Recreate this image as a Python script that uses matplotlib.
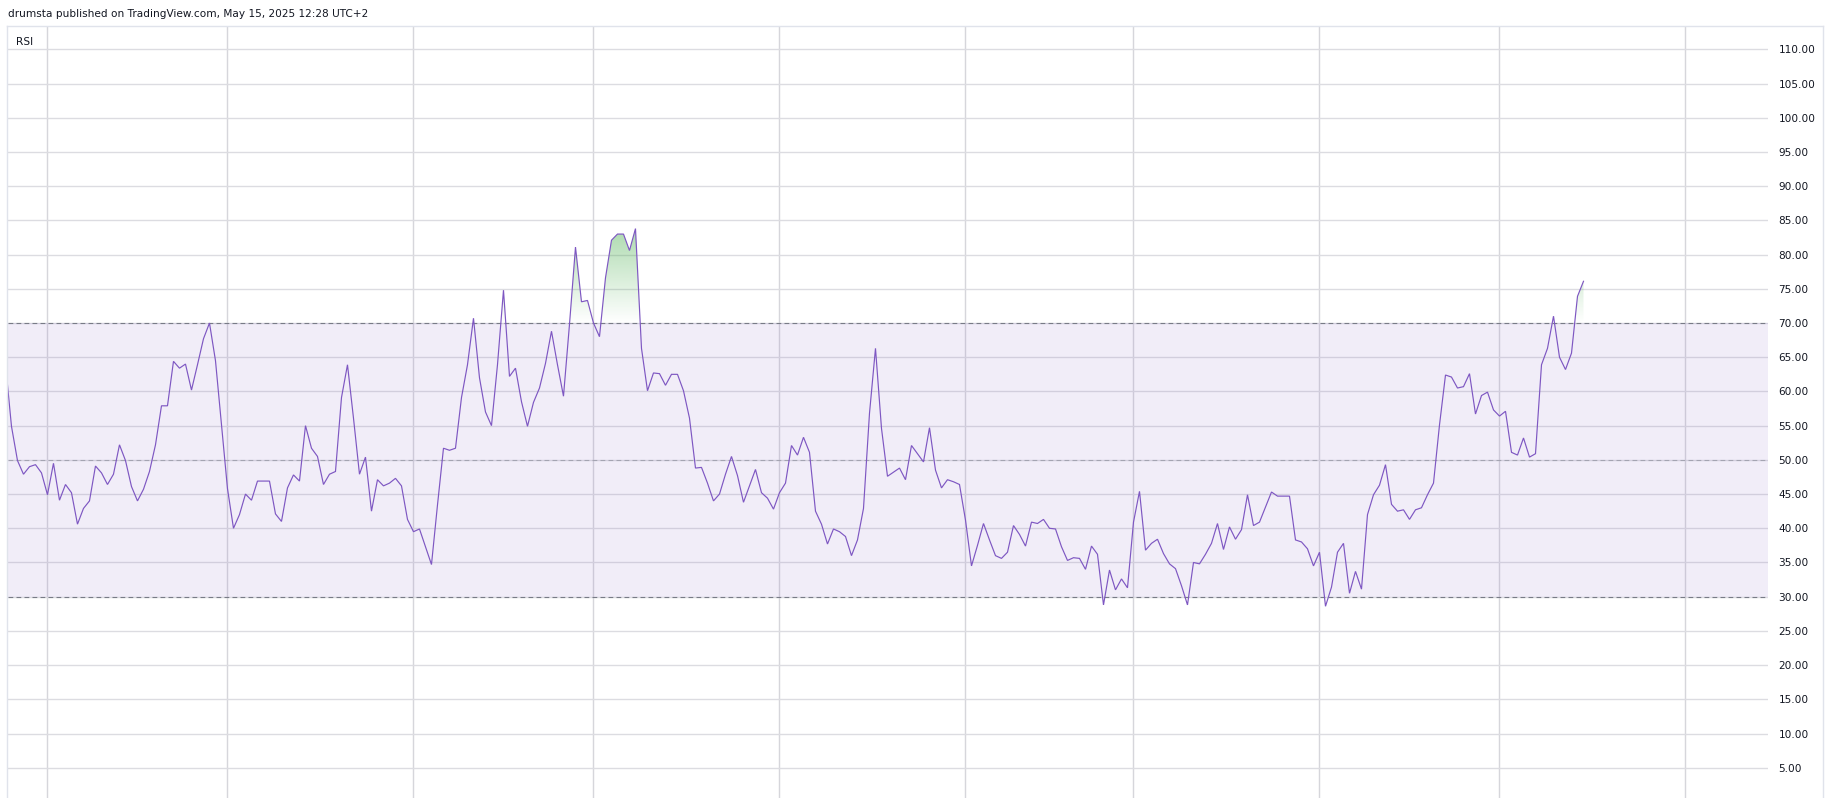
"""
RSI panel (TradingView style) redrawn with matplotlib
"""
import numpy as np
import matplotlib
matplotlib.use('Agg')
import matplotlib.pyplot as plt
import matplotlib.dates as mdates
from matplotlib.lines import Line2D
from matplotlib.path import Path

# daily RSI values, one list per month
rsi_aug = [64.0, 54.9, 49.9, 47.9, 49.0, 49.3, 48.1]  # Aug 25-31
rsi_sep = [44.9, 49.5, 44.1, 46.4, 45.2, 40.6, 42.9, 44.0, 49.1, 48.1,
           46.4, 47.9, 52.2, 49.9, 46.1, 44.0, 45.7, 48.3, 52.2, 57.9,
           57.9, 64.4, 63.4, 64.0, 60.2, 63.9, 67.7, 70.0, 64.5, 55.1]
rsi_oct = [45.8, 40.0, 42.0, 45.0, 44.1, 46.9, 46.9, 46.9, 42.1, 41.0,
           45.9, 47.8, 46.9, 55.0, 51.7, 50.5, 46.4, 47.9, 48.3, 59.1,
           63.9, 56.1, 47.9, 50.4, 42.5, 47.1, 46.2, 46.6, 47.3, 46.2, 41.3]
rsi_nov = [39.5, 39.9, 37.3, 34.7, 43.4, 51.7, 51.4, 51.7, 59.1, 63.9,
           70.7, 62.0, 57.0, 55.0, 63.9, 74.8, 62.2, 63.4, 58.5, 54.9,
           58.4, 60.5, 64.1, 68.8, 63.9, 59.3, 69.8, 81.1, 73.1, 73.3]
rsi_dec = [70.0, 68.0, 76.6, 82.1, 83.0, 83.0, 80.6, 83.8, 66.3, 60.1,
           62.7, 62.6, 60.9, 62.5, 62.5, 60.1, 56.1, 48.8, 48.9, 46.6,
           44.0, 45.0, 47.9, 50.5, 47.7, 43.8, 46.2, 48.6, 45.2, 44.4, 42.8]
rsi_jan = [45.2, 46.6, 52.1, 50.7, 53.3, 51.1, 42.5, 40.6, 37.7, 39.9,
           39.5, 38.8, 36.0, 38.3, 42.9, 56.8, 66.3, 54.6, 47.6, 48.2,
           48.8, 47.1, 52.1, 50.9, 49.7, 54.7, 48.5, 45.9, 47.1, 46.8, 46.4]
rsi_feb = [41.2, 34.5, 37.5, 40.7, 38.3, 36.0, 35.6, 36.5, 40.4, 39.1,
           37.4, 40.9, 40.7, 41.3, 40.0, 39.9, 37.3, 35.3, 35.7, 35.6,
           34.0, 37.4, 36.2, 28.8, 33.9, 31.0, 32.6, 31.3]
rsi_mar = [40.9, 45.4, 36.8, 37.8, 38.4, 36.3, 34.8, 34.1, 31.6, 28.8,
           35.0, 34.8, 36.2, 37.8, 40.7, 36.9, 40.2, 38.4, 39.8, 44.9,
           40.4, 40.9, 43.1, 45.3, 44.7, 44.7, 44.7, 38.3, 38.0, 37.0, 34.5]
rsi_apr = [36.5, 28.6, 31.4, 36.5, 37.8, 30.5, 33.7, 31.1, 42.0, 44.9,
           46.3, 49.3, 43.5, 42.5, 42.7, 41.3, 42.7, 43.0, 44.9, 46.6,
           55.1, 62.4, 62.1, 60.5, 60.7, 62.6, 56.7, 59.4, 59.9, 57.3]
rsi_may = [56.4, 57.1, 51.1, 50.7, 53.2, 50.4, 50.9, 63.9, 66.3, 71.0,
           65.0, 63.2, 65.6, 73.9, 76.1]

first_day = '2024-08-25'
last_day = '2025-05-15'
month_starts = ['2024-09-01', '2024-10-01', '2024-11-01', '2024-12-01',
                '2025-01-01', '2025-02-01', '2025-03-01', '2025-04-01',
                '2025-05-01', '2025-06-01']
price_ticks = list(range(5, 115, 5))
header = "drumsta published on TradingView.com, May 15, 2025 12:28 UTC+2"

rsi = np.array(rsi_aug + rsi_sep + rsi_oct + rsi_nov + rsi_dec + rsi_jan
               + rsi_feb + rsi_mar + rsi_apr + rsi_may)
days = np.arange(np.datetime64(first_day), np.datetime64(last_day) + 1)
x = mdates.date2num(days)

W, H = 1833, 798
fig = plt.figure(figsize=(W / 100, H / 100), dpi=100)
fig.patch.set_facecolor('white')

# plot area: x 8..1768 px, y 26..798 px
ax = fig.add_axes([8 / W, 0, 1760 / W, 772 / H])
ax.set_facecolor('white')
for s in ax.spines.values():
    s.set_visible(False)

line_col = '#7E57C2'

# month grid lines (vertical) and price grid (horizontal)
ax.set_xticks(mdates.date2num(np.array(month_starts, dtype='datetime64[D]')))
ax.set_yticks(price_ticks)
ax.grid(True, axis='x', color='#D6D6DB', lw=1.0, zorder=0)
ax.grid(True, axis='y', color='#DCDCE1', lw=1.0, zorder=0)
ax.set_axisbelow(True)
ax.tick_params(axis='x', length=0, labelbottom=False)
ax.yaxis.set_ticks_position('right')
ax.tick_params(axis='y', length=0, pad=7.5, labelsize=7.6, labelcolor='#131722')
ax.set_yticklabels([f'{v:.2f}' for v in price_ticks])

# 30-70 band and level lines
ax.axhspan(30, 70, color=line_col, alpha=0.1, lw=0, zorder=1)
dash = (0, (4.3, 2.9))
ax.axhline(70, color='#787B86', lw=0.8, ls=dash, zorder=2)
ax.axhline(30, color='#787B86', lw=0.8, ls=dash, zorder=2)
ax.axhline(50, color='#787B86', lw=0.8, ls=dash, alpha=0.5, zorder=2)

# gradient fills above 70 (green) and below 30 (red)
def gradient_fill(lo, hi, rgb, above):
    if above:
        poly = ax.fill_between(x, rsi, lo, where=rsi > lo, interpolate=True,
                               facecolor='none', edgecolor='none')
        alpha = np.linspace(0, 1, 256)
    else:
        poly = ax.fill_between(x, rsi, hi, where=rsi < hi, interpolate=True,
                               facecolor='none', edgecolor='none')
        alpha = np.linspace(1, 0, 256)
    paths = poly.get_paths()
    if not paths:
        return
    img = np.zeros((256, 1, 4))
    img[:, 0, :3] = rgb
    img[:, 0, 3] = alpha
    im = ax.imshow(img, extent=[x[0], x[-1], lo, hi], origin='lower',
                   aspect='auto', interpolation='bilinear', zorder=2.5)
    im.set_clip_path(Path.make_compound_path(*paths), transform=ax.transData)

gradient_fill(70, 100, (76 / 255, 175 / 255, 80 / 255), True)
gradient_fill(0, 30, (242 / 255, 54 / 255, 69 / 255), False)

ax.plot(x, rsi, color=line_col, lw=0.85, zorder=3, solid_joinstyle='miter')

sep1 = mdates.date2num(np.datetime64('2024-09-01'))
ax.set_xlim(sep1 - 6.58, sep1 + 286.75)
ax.set_ylim(0.58, 113.41)

# frame around the pane
frame_col = '#E0E3EB'
fig.add_artist(Line2D([7 / W, 1823 / W], [1 - 26 / H, 1 - 26 / H],
                      transform=fig.transFigure, color=frame_col, lw=1))
fig.add_artist(Line2D([1823 / W, 1823 / W], [0, 1 - 26 / H],
                      transform=fig.transFigure, color=frame_col, lw=1))
fig.add_artist(Line2D([7 / W, 7 / W], [0, 1 - 26 / H],
                      transform=fig.transFigure, color=frame_col, lw=1))

fig.text(8 / W, 1 - 14 / H, header, ha='left', va='center',
         fontsize=7.6, color='#131722')
fig.text(16 / W, 1 - 42 / H, 'RSI', ha='left', va='center',
         fontsize=7.6, color='#131722')

plt.savefig('out.png', dpi=100)
